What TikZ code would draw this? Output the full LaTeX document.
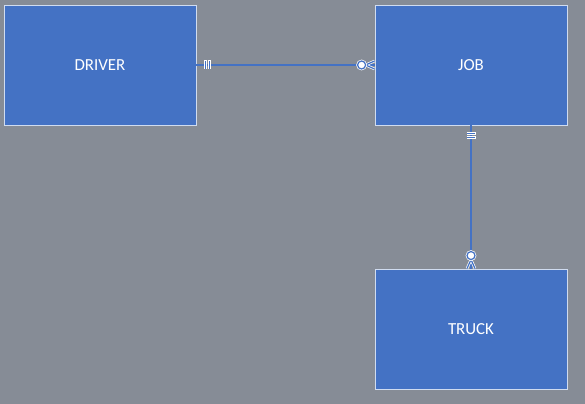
\documentclass[tikz,border=0pt]{standalone}
\usepackage{fontspec}
\setmainfont{Carlito}
\usetikzlibrary{calc}
\definecolor{fond}{HTML}{868C96}
\definecolor{bleu}{HTML}{4472C4}

\begin{document}
\begin{tikzpicture}[x=0.02cm, y=-0.02cm]
\tikzset{entite/.style={draw=white!75!bleu, line width=0.5pt, fill=bleu, text=white, minimum width=3.84cm, minimum height=2.4cm, inner sep=0pt, font=\fontsize{9.6}{11}\selectfont},
lien/.style={draw=bleu, line width=0.7pt},
halo/.style={draw=white, line width=1.5pt}}
\fill[fond] (0,0) rectangle (585,404);
\node[entite] (D) at (100,65) {DRIVER};
\node[entite] (J) at (471,65) {JOB};
\node[entite] (T) at (471,329) {TRUCK};
\draw[lien] (D) -- (J);
\draw[lien] (J) -- (T);
% un et un seul cote DRIVER
\draw[halo] ($(D.east)+(9,-4.5)$) -- ($(D.east)+(9,4.5)$) ($(D.east)+(13,-4.5)$) -- ($(D.east)+(13,4.5)$);
\draw[lien] ($(D.east)+(9,-4)$) -- ($(D.east)+(9,4)$) ($(D.east)+(13,-4)$) -- ($(D.east)+(13,4)$);
% zero ou plusieurs cote JOB
\draw[halo] ($(J.west)+(-9,0)$) -- ($(J.west)+(0,-4)$) ($(J.west)+(-9,0)$) -- ($(J.west)+(0,4)$);
\draw[lien] ($(J.west)+(-9,0)$) -- ($(J.west)+(0,-4)$) ($(J.west)+(-9,0)$) -- ($(J.west)+(0,4)$);
\draw[halo] ($(J.west)+(-13,0)$) circle (4);
\draw[lien, fill=white] ($(J.west)+(-13,0)$) circle (4);
% un et un seul cote JOB
\draw[halo] ($(J.south)+(-4.5,8)$) -- ($(J.south)+(4.5,8)$) ($(J.south)+(-4.5,12)$) -- ($(J.south)+(4.5,12)$);
\draw[lien] ($(J.south)+(-4,8)$) -- ($(J.south)+(4,8)$) ($(J.south)+(-4,12)$) -- ($(J.south)+(4,12)$);
% zero ou plusieurs cote TRUCK
\draw[halo] ($(T.north)+(0,-9)$) -- ($(T.north)+(-4,0)$) ($(T.north)+(0,-9)$) -- ($(T.north)+(4,0)$);
\draw[lien] ($(T.north)+(0,-9)$) -- ($(T.north)+(-4,0)$) ($(T.north)+(0,-9)$) -- ($(T.north)+(4,0)$);
\draw[halo] ($(T.north)+(0,-13)$) circle (4);
\draw[lien, fill=white] ($(T.north)+(0,-13)$) circle (4);
\end{tikzpicture}
\end{document}
